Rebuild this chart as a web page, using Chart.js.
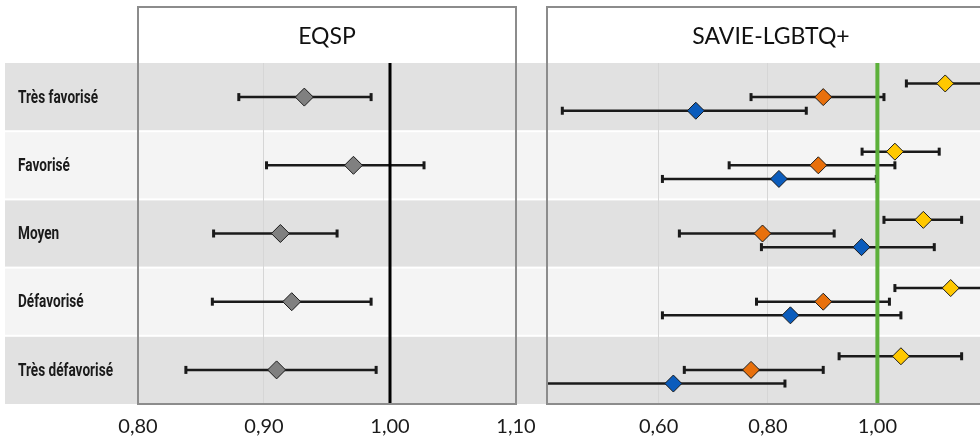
<!DOCTYPE html>
<html lang="fr">
<head>
<meta charset="utf-8">
<title>Rapports selon la défavorisation</title>
<script src="https://cdn.jsdelivr.net/npm/chart.js@4.4.1/dist/chart.umd.min.js"></script>
<style>
  html, body { margin: 0; padding: 0; background: #fff; overflow: hidden; }
  #wrap { position: relative; width: 980px; height: 441px; overflow: hidden; }
  #eqsp { position: absolute; left: 0; top: 0; }
  #savie { position: absolute; left: 540px; top: 0; }
</style>
</head>
<body>
<div id="wrap">
  <canvas id="eqsp" width="540" height="441"></canvas>
  <canvas id="savie" width="480" height="441"></canvas>
</div>
<script>
// Catégories, du plus favorisé au plus défavorisé
const categories = ['Très favorisé', 'Favorisé', 'Moyen', 'Défavorisé', 'Très défavorisé'];

// EQSP : estimation et intervalle de confiance
const eqspEst  = [0.932, 0.971, 0.913, 0.922, 0.910];
const eqspLow  = [0.880, 0.902, 0.860, 0.859, 0.838];
const eqspHigh = [0.985, 1.027, 0.958, 0.985, 0.989];

// SAVIE-LGBTQ+ : trois groupes
const savieEst1  = [1.124, 1.032, 1.084, 1.134, 1.043];
const savieLow1  = [1.053, 0.972, 1.012, 1.032, 0.930];
const savieHigh1 = [1.205, 1.113, 1.154, 1.210, 1.154];

const savieEst2  = [0.901, 0.892, 0.790, 0.901, 0.769];
const savieLow2  = [0.769, 0.729, 0.638, 0.779, 0.647];
const savieHigh2 = [1.012, 1.032, 0.921, 1.022, 0.901];

const savieEst3  = [0.668, 0.820, 0.971, 0.841, 0.627];
const savieLow3  = [0.424, 0.607, 0.788, 0.607, 0.370];
const savieHigh3 = [0.870, 0.998, 1.104, 1.043, 0.831];

const eqspTicks = [0.8, 0.9, 1.0, 1.1];
const savieTicks = [0.6, 0.8, 1.0];

const INK = '#1a1a1a';
const LABEL_FONT = 'bold 19px Roboto, sans-serif';
const LABEL_WIDTH = 80; // largeur voulue de « Très favorisé »

// bandes, ligne de référence, intervalles, cadre, titre et libellés
const panelPlugin = {
  id: 'panel',
  beforeDraw(chart, args, opts) {
    const { ctx, scales: { y } } = chart;
    ctx.save();
    categories.forEach((c, i) => {
      const top = y.getPixelForValue(i - 0.5) + (i > 0 ? 1 : 0);
      const bottom = y.getPixelForValue(i + 0.5) - (i < categories.length - 1 ? 1 : 0);
      ctx.fillStyle = i % 2 === 0 ? '#e1e1e1' : '#f4f4f4';
      ctx.fillRect(opts.bandLeft, top, chart.width - opts.bandLeft, bottom - top);
    });
    ctx.restore();
  },
  beforeDatasetsDraw(chart, args, opts) {
    const { ctx, chartArea: area, scales: { x } } = chart;
    ctx.save();
    ctx.beginPath();
    ctx.rect(area.left, area.top, area.width, area.height);
    ctx.clip();
    ctx.strokeStyle = INK;
    ctx.fillStyle = INK;
    ctx.lineWidth = 2.5;
    chart.data.datasets.forEach((ds, d) => {
      chart.getDatasetMeta(d).data.forEach((pt, i) => {
        const x0 = x.getPixelForValue(ds.low[i]);
        const x1 = x.getPixelForValue(ds.high[i]);
        ctx.beginPath();
        ctx.moveTo(x0, pt.y);
        ctx.lineTo(x1, pt.y);
        ctx.stroke();
        ctx.fillRect(x0 - 1.5, pt.y - 4, 3, 8);
        ctx.fillRect(x1 - 1.5, pt.y - 4, 3, 8);
      });
    });
    const rx = x.getPixelForValue(1);
    ctx.fillStyle = opts.refColor;
    ctx.fillRect(rx - opts.refWidth / 2, area.top, opts.refWidth, area.height);
    ctx.restore();
  },
  afterDraw(chart, args, opts) {
    const { ctx, chartArea: area, scales: { y } } = chart;
    ctx.save();
    ctx.strokeStyle = '#8c8c8c';
    ctx.lineWidth = 2;
    ctx.strokeRect(area.left, 7, area.right - area.left, area.bottom - 7);
    ctx.fillStyle = '#111';
    ctx.font = '23px Lato, sans-serif';
    ctx.textAlign = 'center';
    ctx.textBaseline = 'middle';
    ctx.fillText(opts.title, (area.left + area.right) / 2, 37);

    // libellés de lignes, police resserrée
    if (opts.labels) {
      ctx.font = LABEL_FONT;
      ctx.fillStyle = INK;
      ctx.textAlign = 'left';
      const squeeze = LABEL_WIDTH / ctx.measureText(categories[0]).width;
      y.ticks.forEach(t => {
        ctx.save();
        ctx.translate(18, y.getPixelForValue(t.value) + 1);
        ctx.scale(squeeze, 1);
        ctx.fillText(categories[t.value], 0, 0);
        ctx.restore();
      });
    }
    ctx.restore();
  }
};

function xScale(min, max, ticks) {
  return {
    type: 'linear',
    min: min,
    max: max,
    afterBuildTicks: s => { s.ticks = ticks.map(v => ({ value: v })); },
    afterFit: s => { s.height = 37; s.paddingLeft = 0; s.paddingRight = 0; },
    grid: { color: '#d6d6d6', lineWidth: 1, drawTicks: false },
    border: { display: false },
    ticks: {
      padding: 11,
      color: INK,
      font: { family: 'Lato', size: 20 },
      callback: v => v.toFixed(2).replace('.', ',')
    }
  };
}

function yScale(width) {
  return {
    type: 'linear',
    min: -0.5,
    max: 4.5,
    reverse: true,
    afterBuildTicks: s => { s.ticks = categories.map((c, i) => ({ value: i })); },
    afterFit: s => { s.width = width; s.paddingTop = 0; s.paddingBottom = 0; },
    grid: { display: false },
    border: { display: false },
    ticks: { display: false }
  };
}

function diamonds(est, low, high, color, shift, radius) {
  return {
    data: est.map((v, i) => ({ x: v, y: i + shift })),
    low: low,
    high: high,
    pointStyle: 'rectRot',
    radius: radius,
    hoverRadius: radius,
    backgroundColor: color,
    borderColor: INK,
    borderWidth: 1
  };
}

const common = {
  responsive: false,
  animation: false,
  events: [],
  plugins: { legend: { display: false }, tooltip: { enabled: false } }
};

new Chart(document.getElementById('eqsp'), {
  type: 'scatter',
  data: { datasets: [diamonds(eqspEst, eqspLow, eqspHigh, '#808080', 0, 9)] },
  options: {
    ...common,
    layout: { autoPadding: false, padding: { top: 63, left: 0, right: 24, bottom: 0 } },
    scales: { x: xScale(0.8, 1.1, eqspTicks), y: yScale(138) },
    plugins: { ...common.plugins, panel: { title: 'EQSP', refColor: '#000', refWidth: 3, bandLeft: 5, labels: true } }
  },
  plugins: [panelPlugin]
});

new Chart(document.getElementById('savie'), {
  type: 'scatter',
  data: {
    datasets: [
      diamonds(savieEst1, savieLow1, savieHigh1, '#ffc800', -0.2, 8.5),
      diamonds(savieEst2, savieLow2, savieHigh2, '#e8700c', 0, 8.5),
      diamonds(savieEst3, savieLow3, savieHigh3, '#0b5cbc', 0.2, 8.5)
    ]
  },
  options: {
    ...common,
    layout: { autoPadding: false, padding: { top: 63, left: 0, right: 25, bottom: 0 } },
    scales: { x: xScale(0.396, 1.215, savieTicks), y: yScale(7) },
    plugins: { ...common.plugins, panel: { title: 'SAVIE-LGBTQ+', refColor: '#5cb03a', refWidth: 4, bandLeft: 0, labels: false } }
  },
  plugins: [panelPlugin]
});
</script>
</body>
</html>
